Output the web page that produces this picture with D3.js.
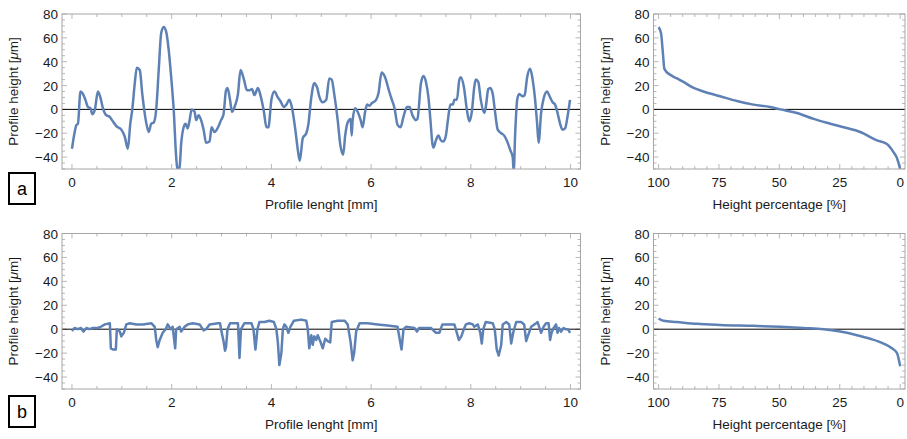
<!DOCTYPE html>
<html>
<head>
<meta charset="utf-8">
<script src="https://cdn.jsdelivr.net/npm/d3@7"></script>
<style>
  body { margin: 0; background: #fff; }
  text { font-family: "Liberation Sans", Arial, sans-serif; fill: #1a1a1a; }
</style>
</head>
<body>
<svg class="chart"></svg>
<script>
// profile a: length [mm] and height [um]
var lengthA = [0.00,0.05,0.09,0.12,0.17,0.22,0.27,0.32,0.37,0.41,0.46,0.52,0.57,0.62,0.69,0.75,0.82,0.89,0.99,1.06,
  1.12,1.17,1.21,1.26,1.30,1.36,1.41,1.48,1.54,1.59,1.64,1.69,1.74,1.79,1.84,1.89,1.94,1.99,2.04,2.09,
  2.12,2.16,2.19,2.24,2.28,2.32,2.36,2.40,2.46,2.49,2.54,2.59,2.64,2.69,2.76,2.80,2.86,2.93,2.99,3.04,
  3.09,3.12,3.17,3.21,3.26,3.33,3.38,3.45,3.51,3.56,3.61,3.66,3.73,3.78,3.85,3.90,3.94,4.00,4.06,4.13,
  4.18,4.25,4.30,4.36,4.41,4.48,4.53,4.57,4.63,4.70,4.74,4.80,4.86,4.92,4.96,5.03,5.10,5.16,5.21,5.26,
  5.33,5.38,5.44,5.48,5.53,5.59,5.61,5.63,5.68,5.73,5.79,5.83,5.88,5.92,5.97,6.01,6.10,6.15,6.21,6.28,
  6.35,6.40,6.47,6.53,6.59,6.65,6.72,6.77,6.83,6.90,6.93,7.00,7.05,7.10,7.15,7.19,7.23,7.25,7.30,7.35,
  7.40,7.45,7.50,7.54,7.59,7.64,7.67,7.72,7.77,7.80,7.86,7.92,7.97,8.02,8.07,8.10,8.15,8.20,8.27,8.30,
  8.35,8.39,8.44,8.48,8.54,8.61,8.67,8.74,8.79,8.84,8.86,8.89,8.93,8.97,9.04,9.08,9.13,9.19,9.24,9.29,
  9.33,9.36,9.41,9.46,9.53,9.58,9.64,9.69,9.74,9.79,9.84,9.89,9.94,9.99];
var heightA = [-33,-20,-13,-12,15,13,8,2,1,-4,0,15,10,1,-5,-6,-10,-14,-17,-23,
  -33,-12,0,22,35,33,13,-9,-19,-12,-11,0,33,64,69,65,50,27,0,-40,
  -52,-48,-29,-15,-12,-16,-9,0,-2,-9,-5,-9,-17,-28,-27,-15,-19,-15,-9,-4,
  16,18,8,-2,2,13,33,25,16,16,17,12,18,12,-2,-15,-15,8,15,10,
  7,2,4,8,2,-17,-34,-43,-24,-20,-13,10,22,18,11,6,8,26,25,13,
  -9,-29,-38,-22,-11,-8,-22,-9,1,-2,-9,-15,-2,4,3,5,8,14,31,27,
  17,10,1,-13,-15,-6,2,2,-5,-9,-8,22,28,23,10,-9,-29,-32,-26,-22,
  -26,-27,-22,-9,4,4,8,8,25,27,19,0,-10,-2,19,25,23,8,-3,2,
  17,18,13,0,-17,-20,-22,-28,-34,-40,-52,-20,8,13,11,12,27,34,25,8,
  -12,-28,-3,9,15,11,6,4,-3,-12,-17,-16,-6,8];

// profile b
var lengthB = [0.00,0.05,0.12,0.18,0.23,0.29,0.35,0.42,0.52,0.58,0.66,0.76,0.78,0.82,0.88,0.90,0.96,0.99,1.04,1.09,
  1.16,1.29,1.42,1.59,1.66,1.69,1.72,1.76,1.82,1.88,1.92,1.98,2.02,2.07,2.09,2.16,2.19,2.26,2.32,2.42,
  2.56,2.64,2.69,2.76,2.93,2.97,2.99,3.04,3.07,3.09,3.12,3.17,3.29,3.33,3.36,3.39,3.46,3.60,3.64,3.68,
  3.72,3.76,3.86,3.96,4.05,4.10,4.13,4.16,4.20,4.23,4.26,4.30,4.34,4.38,4.45,4.60,4.70,4.73,4.76,4.80,
  4.83,4.86,4.90,4.93,4.98,5.03,5.08,5.13,5.18,5.21,5.33,5.47,5.53,5.59,5.63,5.66,5.70,5.77,5.93,6.13,
  6.33,6.53,6.58,6.61,6.65,6.70,6.87,6.92,6.96,7.20,7.30,7.37,7.43,7.67,7.72,7.76,7.81,7.86,7.90,7.97,
  8.04,8.07,8.14,8.19,8.22,8.25,8.30,8.44,8.48,8.52,8.56,8.61,8.64,8.71,8.77,8.81,8.85,8.91,9.01,9.07,
  9.11,9.15,9.21,9.31,9.34,9.37,9.41,9.46,9.51,9.56,9.59,9.62,9.66,9.71,9.74,9.77,9.81,9.86,9.90,9.95,9.99];
var heightB = [-1.5,1,0,1,-2,1,0,1,1,2,4,5,-16,-17,-17,0,-2,-6,-3,4,
  5,4,4,5,2,-9,-15,-9,-3,0,4,0,2,-16,0,2,-2,2,4,5,
  4,-1,0,4,5,5,0,-10,-18,-15,0,5,5,5,-24,0,5,5,0,-17,
  0,6,6,7,6,0,-11,-30,-20,0,4,2,-3,2,7,8,7,0,-16,-5,
  -13,-6,-9,-5,-10,-16,-8,-10,-11,6,7,7,4,-11,-26,-20,-2,5,5,4,
  3,2,-10,-17,0,2,1,-2,1,1,-3,-3,4,4,-3,-9,-6,0,4,5,
  4,2,4,-3,-12,0,6,5,0,-17,-22,-13,4,6,4,-12,-3,6,6,4,
  -10,-5,2,5,6,2,-3,2,5,5,-9,-3,1,4,-3,1,-2,1,0,0,-3];

// height distribution (bearing curves)
var percentA = [100,99,98.2,97.6,95.2,92.4,89.7,85.5,81.4,74.5,67.6,60.7,53.8,49.6,42.7,35.8,28.9,23.4,16.5,9.6,5.5,2.7,1.3,0];
var bearingA = [69,64,47,34,29,26,23,18,15,11,7,4,2,0,-3,-8,-12,-15,-19,-26,-29,-36,-41,-50];
var percentB = [100,98,92.4,84.1,74.5,60.7,49.6,40,31.7,24.8,17.9,12.4,6.9,3.4,1.3,0];
var bearingB = [9,7,6,4.5,3.6,2.8,2,1,0,-2,-5,-8,-12,-16,-20,-31];

var yTicks = [-40, -20, 0, 20, 40, 60, 80];
var lengthTicks = [0, 2, 4, 6, 8, 10];
var percentTicks = [100, 75, 50, 25, 0];

var width = 907, height = 439;
var lineColor = "#5e81b5", frameColor = "#a6a6a6";

var svg = d3.select(".chart")
    .attr("width", width)
    .attr("height", height);

var clipId = 0;

function panel(box, xDomain, xMajor, xMinorStep, xData, yData, xLabel, curve) {
    var x = d3.scaleLinear().domain(xDomain).range([box.left, box.right]);
    var y = d3.scaleLinear().domain([-50, 80]).range([box.bottom, box.top]);
    var g = svg.append("g");

    // minor + major ticks, inward on all four sides
    var lo = Math.min(xDomain[0], xDomain[1]), hi = Math.max(xDomain[0], xDomain[1]);
    var xMinor = d3.range(Math.ceil(lo / xMinorStep) * xMinorStep, hi, xMinorStep);
    var yMinor = d3.range(-50, 81, 5);
    var ticks = g.append("g").attr("stroke", frameColor).attr("stroke-width", 0.8);
    xMinor.forEach(function(v) {
        var major = xMajor.some(function(m) { return Math.abs(m - v) < 1e-6; });
        var len = major ? 5 : 3;
        ticks.append("line").attr("x1", x(v)).attr("x2", x(v)).attr("y1", box.bottom).attr("y2", box.bottom - len);
        ticks.append("line").attr("x1", x(v)).attr("x2", x(v)).attr("y1", box.top).attr("y2", box.top + len);
    });
    yMinor.forEach(function(v) {
        var len = v % 20 === 0 ? 5 : 3;
        ticks.append("line").attr("y1", y(v)).attr("y2", y(v)).attr("x1", box.left).attr("x2", box.left + len);
        ticks.append("line").attr("y1", y(v)).attr("y2", y(v)).attr("x1", box.right).attr("x2", box.right - len);
    });

    // zero line
    g.append("line")
        .attr("x1", box.left).attr("x2", box.right)
        .attr("y1", y(0)).attr("y2", y(0))
        .attr("stroke", "#000").attr("stroke-width", 1);

    clipId++;
    svg.append("defs").append("clipPath").attr("id", "clip" + clipId)
        .append("rect")
        .attr("x", box.left).attr("y", box.top)
        .attr("width", box.right - box.left).attr("height", box.bottom - box.top);

    var line = d3.line()
        .x(function(d, i) { return x(xData[i]); })
        .y(function(d) { return y(d); })
        .curve(curve);

    g.append("path")
        .datum(yData)
        .attr("clip-path", "url(#clip" + clipId + ")")
        .attr("fill", "none")
        .attr("stroke", lineColor)
        .attr("stroke-width", 2.5)
        .attr("stroke-linejoin", "round")
        .attr("d", line);

    // frame
    g.append("rect")
        .attr("x", box.left).attr("y", box.top)
        .attr("width", box.right - box.left).attr("height", box.bottom - box.top)
        .attr("fill", "none").attr("stroke", frameColor).attr("stroke-width", 1);

    // tick labels
    g.selectAll(".ylab").data(yTicks).enter().append("text")
        .attr("x", box.left - 4)
        .attr("y", function(d) { return y(d) + 5; })
        .attr("text-anchor", "end")
        .style("font-size", "13.5px")
        .text(function(d) { return d < 0 ? "\u2212" + Math.abs(d) : d; });

    g.selectAll(".xlab").data(xMajor).enter().append("text")
        .attr("x", function(d) { return x(d); })
        .attr("y", box.bottom + 18)
        .attr("text-anchor", "middle")
        .style("font-size", "13.5px")
        .text(function(d) { return d; });

    // axis labels
    g.append("text")
        .attr("x", (box.left + box.right) / 2)
        .attr("y", box.bottom + 40)
        .attr("text-anchor", "middle")
        .style("font-size", "13.5px")
        .text(xLabel);

    var yl = g.append("text")
        .attr("transform", "translate(" + (box.left - 44) + "," + ((box.top + box.bottom) / 2) + ") rotate(-90)")
        .attr("text-anchor", "middle")
        .style("font-size", "13.5px");
    yl.append("tspan").text("Profile height [");
    yl.append("tspan").style("font-style", "italic").text("\u03bc");
    yl.append("tspan").text("m]");
}

function tag(letter, top) {
    svg.append("rect")
        .attr("x", 9).attr("y", top).attr("width", 26).attr("height", 31)
        .attr("fill", "none").attr("stroke", "#000").attr("stroke-width", 2);
    svg.append("text")
        .attr("x", 22).attr("y", top + 22)
        .attr("text-anchor", "middle")
        .style("font-size", "18px")
        .style("fill", "#000")
        .text(letter);
}

var rowA = {top: 14, bottom: 169}, rowB = {top: 233.5, bottom: 389};

panel({left: 62, right: 580.5, top: rowA.top, bottom: rowA.bottom}, [-0.2, 10.2], lengthTicks, 0.5,
    lengthA, heightA, "Profile lenght [mm]", d3.curveMonotoneX);
panel({left: 653.5, right: 905, top: rowA.top, bottom: rowA.bottom}, [102.1, -2], percentTicks, 5,
    percentA, bearingA, "Height percentage [%]", d3.curveMonotoneX);
panel({left: 62, right: 580.5, top: rowB.top, bottom: rowB.bottom}, [-0.2, 10.2], lengthTicks, 0.5,
    lengthB, heightB, "Profile lenght [mm]", d3.curveLinear);
panel({left: 653.5, right: 905, top: rowB.top, bottom: rowB.bottom}, [102.1, -2], percentTicks, 5,
    percentB, bearingB, "Height percentage [%]", d3.curveMonotoneX);

tag("a", 173);
tag("b", 396);
</script>
</body>
</html>
